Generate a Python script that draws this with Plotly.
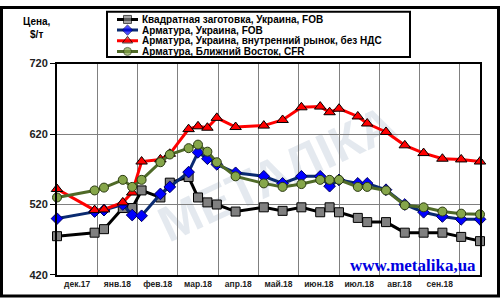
import plotly.graph_objects as go
import pandas as pd

# ---------------- data ----------------
dates = ["2017-12-01", "2017-12-29", "2018-01-05", "2018-01-19", "2018-01-26", "2018-02-02",
         "2018-02-16", "2018-02-23", "2018-03-09", "2018-03-16", "2018-03-23", "2018-03-30",
         "2018-04-13", "2018-05-04", "2018-05-18", "2018-06-01", "2018-06-15", "2018-06-22",
         "2018-06-29", "2018-07-13", "2018-07-20", "2018-08-03", "2018-08-17", "2018-08-31",
         "2018-09-14", "2018-09-28", "2018-10-12"]
billet_fob = [475, 480, 485, 515, 515, 540, 530, 551, 559, 530, 523, 520, 510, 516, 511,
              516, 509, 516, 509, 501, 495, 495, 480, 480, 480, 474, 468]
rebar_fob = [500, 510, 512, 520, 505, 504, 535, 545, 566, 594, 585, 577, 565, 560, 550,
             560, 560, 546, 555, 550, 550, 541, 520, 509, 503, 499, 499]
rebar_domestic = [542, 512, 513, 523, 537, 581, 584, 592, 627, 631, 629, 643, 630, 632, 640,
                  658, 659, 651, 656, 645, 635, 623, 604, 593, 585, 584, 581]
rebar_me = [530, 540, 544, 555, 545, 555, 580, 591, 600, 605, 595, 580, 560, 550, 545,
            549, 555, 555, 555, 545, 545, 540, 519, 516, 510, 507, 506]

series_names = ["Квадратная заготовка, Украина, FOB",
                "Арматура, Украина, FOB",
                "Арматура, Украина, внутренний рынок, без НДС",
                "Арматура, Ближний Восток, CFR"]
month_labels = ["дек.17", "янв.18", "фев.18", "мар.18", "апр.18", "май.18",
                "июн.18", "июл.18", "авг.18", "сен.18"]
y_ticks = [420, 520, 620, 720]

# ---------------- layout helpers ----------------
W, H = 500, 304
def fx(px):
    return px / W
def fy(py):
    return 1 - py / H

start = pd.Timestamp(dates[0])
days = [(pd.Timestamp(d) - start).days for d in dates]
band = 30
label_pos = [band / 2 + band * i for i in range(len(month_labels))]
grid_pos = [band * (i + 1) for i in range(len(month_labels))]

styles = [
    dict(line="#000000", fill="#808080", edge="#000000", symbol="square", size=9),
    dict(line="#0a2a70", fill="#0000ff", edge="#000060", symbol="diamond", size=9),
    dict(line="#ff0000", fill="#ff0000", edge="#000000", symbol="triangle-up", size=10),
    dict(line="#4f6a28", fill="#86a64a", edge="#2a3a10", symbol="circle", size=9),
]
all_series = [billet_fob, rebar_fob, rebar_domestic, rebar_me]

FONT = "Arial, Liberation Sans, sans-serif"

fig = go.Figure()
for name, vals, st in zip(series_names, all_series, styles):
    fig.add_trace(go.Scatter(
        x=days, y=vals, name=name, mode="lines+markers",
        line=dict(color=st["line"], width=3),
        marker=dict(symbol=st["symbol"], size=st["size"], color=st["fill"],
                    line=dict(color=st["edge"], width=1)),
        cliponaxis=False, xaxis="x", yaxis="y", showlegend=False,
    ))

# custom compact legend samples on a hidden axis
for i, st in enumerate(styles):
    row = i + 1
    fig.add_trace(go.Scatter(
        x=[0, 1, 2], y=[row] * 3, mode="lines+markers",
        line=dict(color=st["line"], width=3),
        marker=dict(symbol=st["symbol"], size=[0, st["size"] - 1, 0], color=st["fill"],
                    line=dict(color=st["edge"], width=[0, 1, 0])),
        cliponaxis=False, xaxis="x2", yaxis="y2", showlegend=False, hoverinfo="skip",
    ))

legend_rows_px = [14 + 11.1 * i for i in range(4)]

annotations = []
for name, ypx in zip(series_names, legend_rows_px):
    annotations.append(dict(
        text=name, x=fx(140), y=fy(ypx), xref="paper", yref="paper",
        xanchor="left", yanchor="middle", showarrow=False,
        font=dict(family=FONT, size=10, color="#000000", weight="bold")))
annotations.append(dict(
    text="Цена,<br>$/т", x=fx(37), y=fy(23), xref="paper", yref="paper",
    xanchor="center", yanchor="middle", showarrow=False, align="center",
    font=dict(family=FONT, size=10, color="#000000", weight="bold")))
annotations.append(dict(
    text="www.metalika,ua", x=fx(478), y=fy(270), xref="paper", yref="paper",
    xanchor="right", yanchor="middle", showarrow=False,
    font=dict(family="Liberation Serif, Times New Roman, serif", size=17,
              color="#0000e0", weight="bold")))

shapes = [
    # outer frame
    dict(type="rect", xref="paper", yref="paper", x0=fx(1.5), x1=fx(498.5),
         y0=fy(302), y1=fy(1.5), line=dict(color="#000000", width=3)),
    # legend box
    dict(type="rect", xref="paper", yref="paper", x0=fx(107), x1=fx(410),
         y0=fy(53), y1=fy(6), line=dict(color="#000000", width=2),
         fillcolor="#ffffff", layer="below"),
    # watermark
    dict(type="rect", xref="paper", yref="paper", x0=fx(150), x1=fx(400),
         y0=fy(235), y1=fy(105), line=dict(width=0), fillcolor="rgba(0,0,0,0)",
         layer="below",
         label=dict(text="МЕТАЛІКА", textangle=-25, textposition="middle center",
                    font=dict(family=FONT, size=50, color="rgba(195,206,220,0.45)",
                              weight="bold"))),
]

fig.update_layout(
    width=W, height=H,
    margin=dict(l=0, r=0, t=0, b=0),
    paper_bgcolor="#ffffff", plot_bgcolor="rgba(0,0,0,0)",
    showlegend=False,
    xaxis=dict(domain=[fx(57), fx(480)], range=[0, 315], anchor="y",
               tickmode="array", tickvals=label_pos, ticktext=month_labels,
               ticks="", showgrid=False, zeroline=False,
               minor=dict(tickmode="array", tickvals=grid_pos, showgrid=True,
                          gridcolor="#808080", gridwidth=1, ticks=""),
               showline=True, mirror=True, linecolor="#000000", linewidth=2,
               tickfont=dict(family=FONT, size=8.5, color="#222222", weight="bold")),
    yaxis=dict(domain=[fy(280), fy(60)], range=[420, 720], anchor="x",
               tickmode="array", tickvals=y_ticks,
               ticks="outside", ticklen=5, tickcolor="#000000", tickwidth=1,
               showgrid=True, gridcolor="#808080", gridwidth=1, zeroline=False,
               showline=True, mirror=True, linecolor="#000000", linewidth=2,
               tickfont=dict(family=FONT, size=11, color="#222222", weight="bold")),
    xaxis2=dict(domain=[fx(117), fx(138)], range=[0, 2], anchor="y2", visible=False),
    yaxis2=dict(domain=[fy(52.85), fy(8.45)], range=[4.5, 0.5], anchor="x2", visible=False),
    annotations=annotations,
    shapes=shapes,
)

fig.write_html("out.html")
